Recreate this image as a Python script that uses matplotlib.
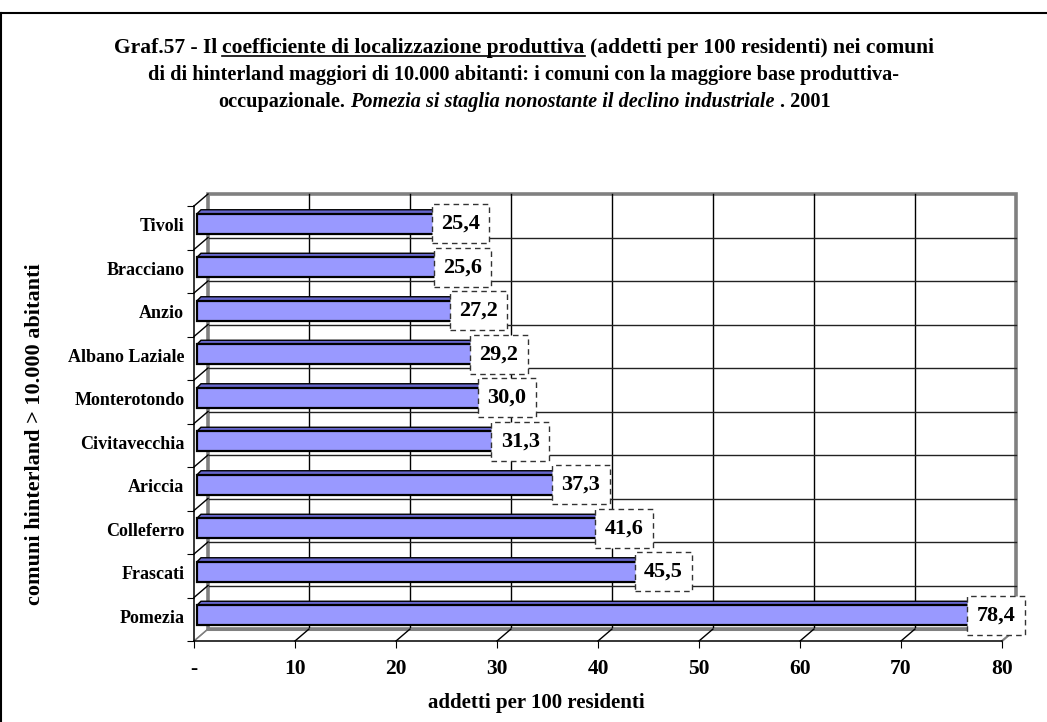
import matplotlib
matplotlib.use("Agg")
import numpy as np
import matplotlib.pyplot as plt
from matplotlib.patches import Polygon, Rectangle
from matplotlib.lines import Line2D

# ---- data -------------------------------------------------------------
comuni = ["Pomezia", "Frascati", "Colleferro", "Ariccia", "Civitavecchia",
          "Monterotondo", "Albano Laziale", "Anzio", "Bracciano", "Tivoli"]
valori = [78.4, 45.5, 41.6, 37.3, 31.3, 30.0, 29.2, 27.2, 25.6, 25.4]
xticks = [0, 10, 20, 30, 40, 50, 60, 70, 80]
xtick_labels = ["-", "10", "20", "30", "40", "50", "60", "70", "80"]

titolo = [
    [("Graf.57 - Il", "normal", False),
     ("coefficiente di localizzazione produttiva", "normal", True),
     ("(addetti per 100 residenti) nei comuni", "normal", False)],
    [("di di hinterland maggiori di 10.000 abitanti: i comuni con la maggiore base produttiva-", "normal", False)],
    [("occupazionale.", "normal", False),
     ("Pomezia si staglia nonostante il declino industriale", "italic", False),
     (". 2001", "normal", False)],
]
asse_x = "addetti per 100 residenti"
asse_y = "comuni hinterland > 10.000 abitanti"

# ---- style ------------------------------------------------------------
plt.rcParams["font.family"] = ["Liberation Serif", "DejaVu Serif"]
plt.rcParams["font.weight"] = "bold"

W, H = 1047, 722
fig = plt.figure(figsize=(W / 100, H / 100), dpi=100)
fig.patch.set_facecolor("white")

# front plane of the pseudo-3D plot area (pixels)
L, R, T, B = 194, 1002, 206, 641
ax = fig.add_axes([L / W, (H - B) / H, (R - L) / W, (B - T) / H])
ax.set_xlim(0, 80)
ax.set_ylim(0, 10)
ax.set_facecolor("none")

ux = 80 / (R - L)   # data units per pixel
uy = 10 / (B - T)
DX, DY = 14 * ux, 12 * uy        # depth of the walls
FX, FY = 3 * ux, 4 * uy          # bar front-face offset
TX, TY = 4 * ux, 4 * uy          # bar depth
HB = 20 * uy                     # bar thickness

GRAY = "#808080"

# back wall
ax.add_patch(Rectangle((DX, DY), 80, 10, facecolor="white", edgecolor=GRAY,
                       lw=2.6, clip_on=False, zorder=0.5))
for x in xticks[1:-1]:
    ax.add_line(Line2D([x + DX, x + DX], [DY, 10 + DY], color="black",
                       lw=1, clip_on=False, zorder=0.6))
for k in range(1, 10):
    ax.add_line(Line2D([DX, 80 + DX], [k + DY, k + DY], color="#222222",
                       lw=1, clip_on=False, zorder=0.6))

# left wall
ax.add_line(Line2D([DX, DX], [DY, 10 + DY], color=GRAY, lw=1.2,
                   clip_on=False, zorder=0.7))
for k in range(0, 11):
    ax.add_line(Line2D([0, DX], [k, k + DY],
                       color=GRAY if k == 0 else "black",
                       lw=1, clip_on=False, zorder=0.7))

# floor
ax.add_line(Line2D([DX, 80 + DX], [DY, DY], color=GRAY, lw=2.2,
                   clip_on=False, zorder=0.7))
for x in xticks:
    ax.add_line(Line2D([x, x + DX], [0, DY],
                       color=GRAY if x in (0, 80) else "black",
                       lw=1.6 if x == 80 else 1, clip_on=False, zorder=0.7))

# bars
for i, v in enumerate(valori):
    yc = i + 0.5 + FY
    y0, y1 = yc - HB / 2, yc + HB / 2
    ax.add_patch(Polygon([(FX, y1), (FX + v, y1), (FX + v + TX, y1 + TY),
                          (FX + TX, y1 + TY)], closed=True,
                         facecolor="#6666cc", edgecolor="black", lw=1,
                         clip_on=False, zorder=2))
    ax.add_patch(Polygon([(FX + v, y0), (FX + v + TX, y0 + TY),
                          (FX + v + TX, y1 + TY), (FX + v, y1)], closed=True,
                         facecolor="#4d4d99", edgecolor="black", lw=1,
                         clip_on=False, zorder=2))
    ax.barh(yc, v, height=HB, left=FX, color="#9999ff", edgecolor="black",
            linewidth=1.6, zorder=2.2, clip_on=False)
    ax.text(FX + v + 7 * ux, yc, f"{v:.1f}".replace(".", ","),
            ha="center", va="center", fontsize=16, fontweight="bold",
            zorder=5, clip_on=False,
            bbox=dict(boxstyle="square,pad=0.42", facecolor="white",
                      edgecolor="#333333", linestyle=(0, (4, 3)), lw=1))

# axes lines and ticks
for s in ("top", "right"):
    ax.spines[s].set_visible(False)
for s in ("left", "bottom"):
    ax.spines[s].set_color("black")
    ax.spines[s].set_linewidth(1.1)
    ax.spines[s].set_zorder(1)

ax.set_xticks(xticks, xtick_labels)
ax.tick_params(axis="x", length=5, width=0.8, pad=8, labelsize=15.5)
ax.set_yticks(np.arange(len(comuni)) + 0.5 + 0.07, comuni)
ax.tick_params(axis="y", which="major", length=0, pad=7, labelsize=13)
ax.set_yticks(np.arange(0, 11), minor=True)
ax.tick_params(axis="y", which="minor", length=5, width=0.8)
for lab in ax.get_xticklabels() + ax.get_yticklabels():
    lab.set_fontweight("bold")

fig.text(536 / W, 1 - 703 / H, asse_x, ha="center", va="center",
         fontsize=15, fontweight="bold")
fig.text(35 / W, 1 - 434 / H, asse_y, ha="center", va="center",
         rotation=90, fontsize=16, fontweight="bold")

# title with mixed styles
fig.canvas.draw()
rend = fig.canvas.get_renderer()


def text_width(s, size, style):
    t = fig.text(0, 0, s, fontsize=size, fontweight="bold", fontstyle=style)
    w = t.get_window_extent(rend).width
    t.remove()
    return w


sizes = [15.5, 14.6, 14.6]
baselines = [53, 80, 107]
for segs, yb, ts in zip(titolo, baselines, sizes):
    space = text_width("a a", ts, "normal") - text_width("aa", ts, "normal")
    widths = [text_width(s, ts, st) for s, st, _ in segs]
    total = sum(widths) + space * (len(segs) - 1)
    x = 524 - total / 2
    for (s, st, ul), w in zip(segs, widths):
        fig.text(x / W, 1 - yb / H, s, fontsize=ts, fontweight="bold",
                 fontstyle=st, ha="left", va="baseline")
        if ul:
            fig.add_artist(Line2D([x / W, (x + w) / W],
                                  [1 - (yb + 2.5) / H, 1 - (yb + 2.5) / H],
                                  transform=fig.transFigure, color="black",
                                  lw=1.2))
        x += w + space

# outer frame
fig.add_artist(Line2D([1 / W, 1], [1 - 13 / H, 1 - 13 / H],
                      transform=fig.transFigure, color="black", lw=1.5))
fig.add_artist(Line2D([1 / W, 1 / W], [0, 1 - 13 / H],
                      transform=fig.transFigure, color="black", lw=1.5))

fig.savefig("out.png", dpi=100, facecolor="white")
